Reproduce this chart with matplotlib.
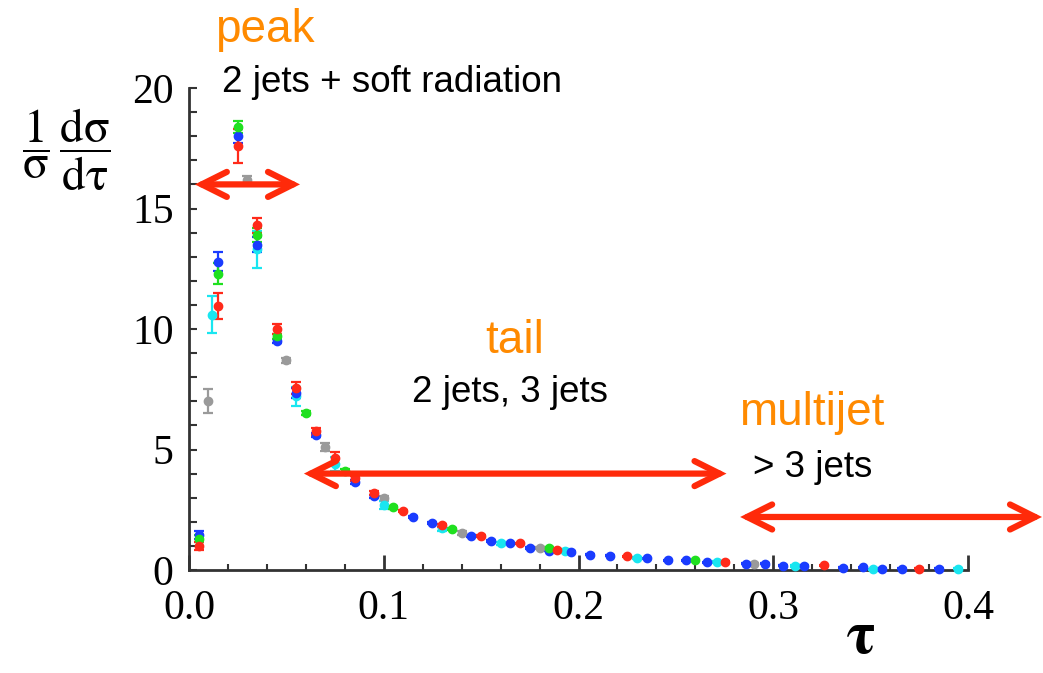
import matplotlib
matplotlib.use("Agg")
import matplotlib.pyplot as plt
from matplotlib.ticker import MultipleLocator, FormatStrFormatter

plt.rcParams["mathtext.fontset"] = "stix"

# thrust-like distribution, five data sets (tau, value, error)
red_tau = [0.005, 0.015, 0.025, 0.035, 0.045, 0.055, 0.065, 0.075, 0.085, 0.095,
           0.110, 0.130, 0.150, 0.170, 0.189, 0.225, 0.275, 0.326, 0.375]
red_val = [1.0, 10.95, 17.6, 14.3, 10.0, 7.55, 5.75, 4.65, 3.8, 3.2,
           2.45, 1.85, 1.4, 1.1, 0.83, 0.57, 0.33, 0.2, 0.06]
red_err = [0.15, 0.55, 0.7, 0.3, 0.2, 0.25, 0.15, 0.25, 0.1, 0.08,
           0.06, 0.05, 0.05, 0.04, 0.04, 0.03, 0.03, 0.02, 0.02]

blue_tau = [0.005, 0.015, 0.025, 0.035, 0.045, 0.055, 0.065, 0.085, 0.095, 0.115,
            0.125, 0.145, 0.155, 0.165, 0.175, 0.185, 0.196, 0.206, 0.216, 0.235,
            0.246, 0.255, 0.266, 0.286, 0.296, 0.305, 0.316, 0.336, 0.346, 0.356,
            0.366, 0.385]
blue_val = [1.45, 12.8, 18.0, 13.5, 9.5, 7.35, 5.6, 3.65, 3.05, 2.2,
            1.95, 1.4, 1.2, 1.1, 0.92, 0.8, 0.75, 0.64, 0.6, 0.48,
            0.4, 0.4, 0.33, 0.25, 0.25, 0.17, 0.17, 0.1, 0.12, 0.06,
            0.06, 0.05]
blue_err = [0.15, 0.4, 0.3, 0.3, 0.1, 0.2, 0.1, 0.08, 0.06, 0.05,
            0.05, 0.04, 0.04, 0.04, 0.04, 0.03, 0.03, 0.03, 0.03, 0.03,
            0.02, 0.02, 0.02, 0.02, 0.02, 0.02, 0.02, 0.02, 0.02, 0.02,
            0.02, 0.02]

green_tau = [0.005, 0.015, 0.025, 0.035, 0.045, 0.060, 0.080, 0.105, 0.135, 0.185, 0.260]
green_val = [1.3, 12.3, 18.4, 13.9, 9.7, 6.5, 4.1, 2.6, 1.7, 0.9, 0.4]
green_err = [0.15, 0.45, 0.25, 0.3, 0.1, 0.08, 0.08, 0.06, 0.05, 0.04, 0.03]

cyan_tau = [0.012, 0.035, 0.055, 0.075, 0.100, 0.130, 0.160, 0.193, 0.230, 0.271,
            0.311, 0.351, 0.395]
cyan_val = [10.6, 13.3, 7.2, 4.4, 2.7, 1.75, 1.1, 0.8, 0.48, 0.33, 0.17, 0.03, 0.05]
cyan_err = [0.75, 0.75, 0.4, 0.3, 0.15, 0.12, 0.08, 0.06, 0.04, 0.03, 0.03, 0.02, 0.02]

gray_tau = [0.010, 0.030, 0.050, 0.070, 0.100, 0.140, 0.180, 0.290]
gray_val = [7.0, 16.2, 8.7, 5.1, 2.97, 1.55, 0.92, 0.25]
gray_err = [0.5, 0.15, 0.1, 0.15, 0.1, 0.08, 0.05, 0.03]

# region arrows: (tau start, tau end, height)
arrows = [(0.003, 0.057, 16.0), (0.059, 0.276, 4.0), (0.283, 0.438, 2.2)]

orange = "#ff8a00"
arrow_red = "#ff2a0a"

W, H = 1043, 673
fig = plt.figure(figsize=(W / 100, H / 100), dpi=100)
ax = fig.add_axes([189 / W, 1 - 570 / H, (968 - 189) / W, (570 - 88) / H])

sets = [(gray_tau, gray_val, gray_err, "#9a9a9a"),
        (cyan_tau, cyan_val, cyan_err, "#19e6f0"),
        (blue_tau, blue_val, blue_err, "#1a3cff"),
        (green_tau, green_val, green_err, "#1fe01f"),
        (red_tau, red_val, red_err, "#ff2a1a")]
for tau, val, err, col in sets:
    ax.errorbar(tau, val, yerr=err, fmt="o", color=col, ms=6, elinewidth=1.6,
                capsize=3.5, capthick=1.6, clip_on=False, zorder=3)

for x0, x1, y in arrows:
    ax.annotate("", xy=(x1, y), xytext=(x0, y), annotation_clip=False,
                arrowprops=dict(arrowstyle="<->,head_length=1.8,head_width=0.9",
                                color=arrow_red, lw=4.5, mutation_scale=10,
                                shrinkA=0, shrinkB=0, joinstyle="miter"),
                zorder=5)

ax.set_xlim(0, 0.4)
ax.set_ylim(0, 20)
ax.spines["top"].set_visible(False)
ax.spines["right"].set_visible(False)
for s in ["left", "bottom"]:
    ax.spines[s].set_linewidth(2)
    ax.spines[s].set_color("#333333")
ax.xaxis.set_major_locator(MultipleLocator(0.1))
ax.xaxis.set_minor_locator(MultipleLocator(0.02))
ax.xaxis.set_major_formatter(FormatStrFormatter("%.1f"))
ax.yaxis.set_major_locator(MultipleLocator(5))
ax.yaxis.set_minor_locator(MultipleLocator(1))
ax.tick_params(axis="x", which="major", direction="in", length=11, width=2,
               color="#333333", pad=14)
ax.tick_params(axis="x", which="minor", direction="in", length=4, width=1.5,
               color="#333333")
ax.tick_params(axis="y", which="both", direction="in", length=6, width=1.5,
               color="#333333", pad=11)
for lab in ax.get_xticklabels() + ax.get_yticklabels():
    lab.set_fontfamily("Liberation Serif")
    lab.set_fontsize(30)

fig.text(66 / W, 1 - 150 / H,
         r"$\dfrac{1}{\mathrm{\sigma}}\,\dfrac{\mathrm{d\sigma}}{\mathrm{d\tau}}$",
         fontsize=34, ha="center", va="center")
fig.text(860 / W, 1 - 637 / H, r"$\mathbf{\tau}$", fontsize=44,
         ha="center", va="center")

sans = "Liberation Sans"
fig.text(215 / W, 1 - 42 / H, "peak", color=orange, fontsize=33, family=sans, va="baseline")
fig.text(222 / W, 1 - 92 / H, "2 jets + soft radiation", fontsize=26.5, family=sans, va="baseline")
fig.text(485 / W, 1 - 353 / H, "tail", color=orange, fontsize=33, family=sans, va="baseline")
fig.text(412 / W, 1 - 402 / H, "2 jets, 3 jets", fontsize=26.5, family=sans, va="baseline")
fig.text(739 / W, 1 - 425 / H, "multijet", color=orange, fontsize=33, family=sans, va="baseline")
fig.text(753 / W, 1 - 477 / H, "> 3 jets", fontsize=26.5, family=sans, va="baseline")

fig.savefig("out.png", dpi=100)
